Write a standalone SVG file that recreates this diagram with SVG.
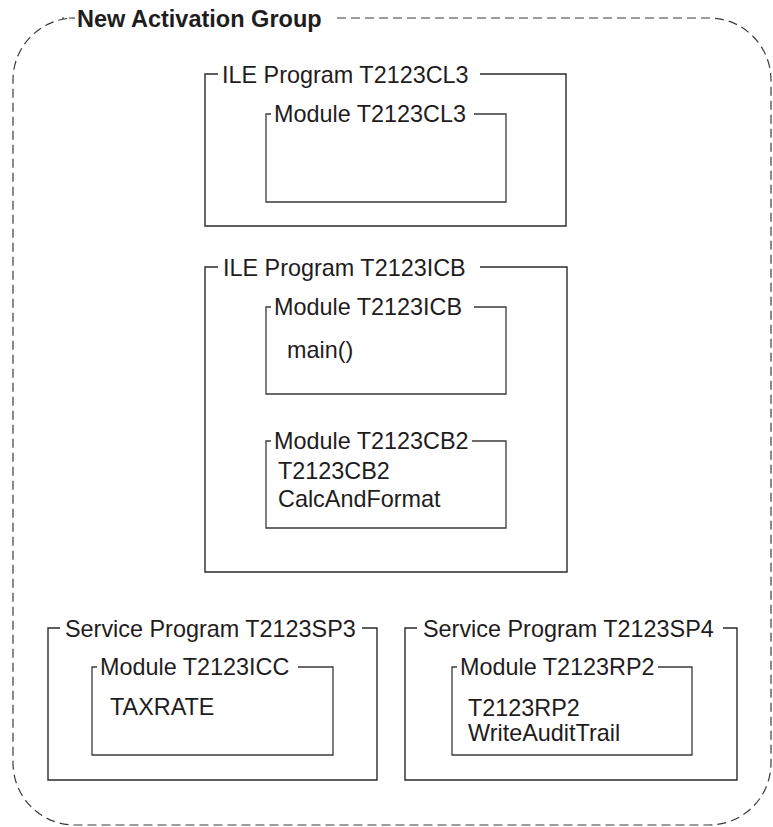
<svg xmlns="http://www.w3.org/2000/svg" width="773" height="827" viewBox="0 0 773 827">
  <style>
    .lbl { font-family: "Liberation Sans", Arial, Helvetica, sans-serif; font-size: 23.4px; fill: #1f1c1d; }
    .title { font-family: "Liberation Sans", Arial, Helvetica, sans-serif; font-size: 23.5px; font-weight: bold; fill: #1f1c1d; }
    .prog { fill: none; stroke: #2b2b2b; stroke-width: 1.4; }
    .mod { fill: none; stroke: #3a3a3a; stroke-width: 1.3; }
    .group { fill: none; stroke: #3a3a3a; stroke-width: 1.2; stroke-dasharray: 9 5; }
  </style>
  <rect x="0" y="0" width="773" height="827" fill="#ffffff"/>

  <g id="activation-group">
    <path class="group" d="M 337 18 H 709 A 62 62 0 0 1 771 80 V 763 A 62 62 0 0 1 709 825 H 75 A 62 62 0 0 1 13 763 V 80 A 62 62 0 0 1 75 18 H 62"/>
    <text class="title" x="77" y="26.5">New Activation Group</text>
  </g>

  <g id="ile-program-t2123cl3">
    <path class="prog" d="M 218 74 H 205 V 226 H 566 V 74 H 480"/>
    <text class="lbl" x="222" y="82.5">ILE Program T2123CL3</text>
  </g>

  <g id="module-t2123cl3">
    <path class="mod" d="M 271 114 H 266 V 202 H 506 V 114 H 474"/>
    <text class="lbl" x="274" y="122">Module T2123CL3</text>
  </g>

  <g id="ile-program-t2123icb">
    <path class="prog" d="M 218 267 H 205 V 572 H 567 V 267 H 480"/>
    <text class="lbl" x="223" y="275.5">ILE Program T2123ICB</text>
  </g>

  <g id="module-t2123icb">
    <path class="mod" d="M 271 307 H 266 V 394 H 506 V 307 H 474"/>
    <text class="lbl" x="274" y="315">Module T2123ICB</text>
    <text class="lbl" x="287" y="358">main()</text>
  </g>

  <g id="module-t2123cb2">
    <path class="mod" d="M 271 441 H 266 V 528 H 506 V 441 H 472"/>
    <text class="lbl" x="274" y="449">Module T2123CB2</text>
    <text class="lbl" x="278" y="479">T2123CB2</text>
    <text class="lbl" x="278" y="507">CalcAndFormat</text>
  </g>

  <g id="service-program-t2123sp3">
    <path class="prog" d="M 60 628 H 48 V 780 H 377 V 628 H 362"/>
    <text class="lbl" x="65" y="636.5">Service Program T2123SP3</text>
  </g>

  <g id="module-t2123icc">
    <path class="mod" d="M 97 667 H 92 V 755 H 333 V 667 H 298"/>
    <text class="lbl" x="100" y="675">Module T2123ICC</text>
    <text class="lbl" x="110" y="715">TAXRATE</text>
  </g>

  <g id="service-program-t2123sp4">
    <path class="prog" d="M 417 628 H 405 V 780 H 737 V 628 H 723"/>
    <text class="lbl" x="423" y="636.5">Service Program T2123SP4</text>
  </g>

  <g id="module-t2123rp2">
    <path class="mod" d="M 457 667 H 452 V 755 H 692 V 667 H 658"/>
    <text class="lbl" x="460" y="675">Module T2123RP2</text>
    <text class="lbl" x="468" y="716">T2123RP2</text>
    <text class="lbl" x="468" y="741">WriteAuditTrail</text>
  </g>

  <g id="connectors"></g>
</svg>
